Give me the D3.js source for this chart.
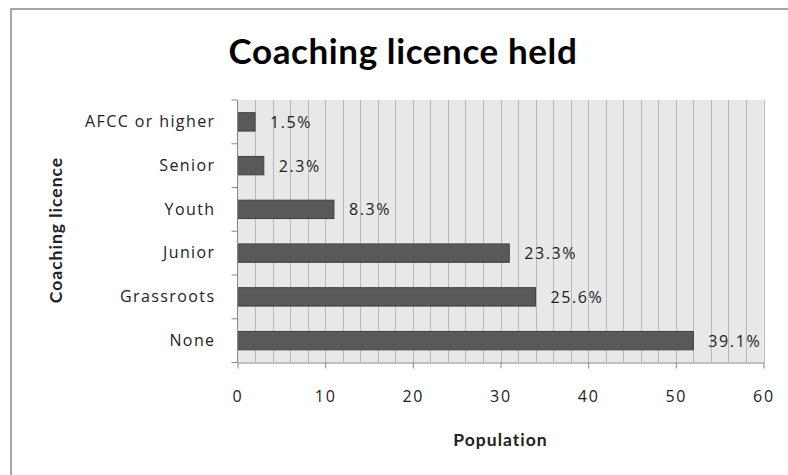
<!DOCTYPE html>
<html>
<head>
<meta charset="utf-8">
<script src="https://cdn.jsdelivr.net/npm/d3@7"></script>
<style>
  html, body { margin: 0; padding: 0; background: #fff; }
  svg { display: block; }
</style>
</head>
<body>
<svg id="chart" width="788" height="475"></svg>
<script>
// Coaching licence held, population per licence level
const categories = ["AFCC or higher", "Senior", "Youth", "Junior", "Grassroots", "None"];
const population = [2, 3, 11, 31, 34, 52];
const shareLabels = ["1.5%", "2.3%", "8.3%", "23.3%", "25.6%", "39.1%"];
const xTicks = [0, 10, 20, 30, 40, 50, 60];

const svg = d3.select("#chart");
const W = 788, H = 475;
const plot = { left: 237.5, right: 763.5, top: 100, bottom: 362.5 };
const labelFont = "'Open Sans', 'DejaVu Sans', sans-serif";
const titleFont = "Lato, 'Open Sans', sans-serif";

// chart frame (only top/left edges fall inside the view)
svg.append("rect")
  .attr("x", 11).attr("y", 9)
  .attr("width", W + 20).attr("height", H + 20)
  .attr("fill", "#fff").attr("stroke", "#a6a6a6").attr("stroke-width", 2);

const x = d3.scaleLinear().domain([0, 60]).range([plot.left, plot.right]);
const y = d3.scaleBand().domain(categories)
  .range([plot.top, plot.bottom]).paddingInner(0.58).paddingOuter(0.29);
const band = d3.scaleBand().domain(categories).range([plot.top, plot.bottom]);

// plot background
svg.append("rect")
  .attr("x", plot.left).attr("y", plot.top)
  .attr("width", plot.right - plot.left).attr("height", plot.bottom - plot.top)
  .attr("fill", "#e8e8e8");

// vertical gridlines every 2 units
svg.append("g")
  .selectAll("line")
  .data(d3.range(2, 61, 2))
  .join("line")
  .attr("x1", d => Math.round(x(d)) + 0.5).attr("x2", d => Math.round(x(d)) + 0.5)
  .attr("y1", plot.top).attr("y2", plot.bottom)
  .attr("stroke", "#b9b9b9").attr("stroke-width", 1);

// bars
svg.append("g")
  .selectAll("rect")
  .data(categories)
  .join("rect")
  .attr("x", x(0))
  .attr("y", d => y(d))
  .attr("width", (d, i) => x(population[i]) - x(0))
  .attr("height", y.bandwidth())
  .attr("fill", "#595959")
  .attr("stroke", "#3f3f3f").attr("stroke-width", 1);

// value labels
svg.append("g")
  .selectAll("text")
  .data(categories)
  .join("text")
  .attr("x", (d, i) => x(population[i]) + 15)
  .attr("y", d => y(d) + y.bandwidth() / 2)
  .attr("dy", "0.38em")
  .attr("font-family", labelFont)
  .attr("font-size", 16)
  .attr("letter-spacing", 1.6)
  .attr("fill", "#222")
  .text((d, i) => shareLabels[i]);

// x axis
const xAxis = svg.append("g")
  .attr("transform", `translate(0,${plot.bottom})`)
  .call(d3.axisBottom(x).tickValues(xTicks).tickSize(6).tickPadding(22).tickSizeOuter(0));
xAxis.select(".domain").attr("stroke", "#888");
xAxis.selectAll(".tick line").attr("stroke", "#888");
xAxis.selectAll("text")
  .attr("font-family", labelFont).attr("font-size", 16)
  .attr("letter-spacing", 1.8).attr("fill", "#222");

// y axis with ticks on category boundaries
const yAxis = svg.append("g")
  .attr("transform", `translate(${plot.left},0)`)
  .call(d3.axisLeft(band).tickSize(0).tickPadding(22).tickSizeOuter(0));
yAxis.select(".domain").remove();
yAxis.selectAll("text")
  .attr("font-family", labelFont).attr("font-size", 16)
  .attr("letter-spacing", 1.4).attr("fill", "#222");

svg.append("line")
  .attr("x1", plot.left).attr("x2", plot.left)
  .attr("y1", plot.top).attr("y2", plot.bottom)
  .attr("stroke", "#888");
svg.append("g")
  .selectAll("line")
  .data(categories.concat(["__end"]))
  .join("line")
  .attr("x1", plot.left - 6).attr("x2", plot.left)
  .attr("y1", (d, i) => i < categories.length ? band(d) : plot.bottom)
  .attr("y2", (d, i) => i < categories.length ? band(d) : plot.bottom)
  .attr("stroke", "#888");

// titles
svg.append("text")
  .attr("x", 403).attr("y", 64)
  .attr("text-anchor", "middle")
  .attr("font-family", titleFont)
  .attr("font-weight", "bold").attr("font-size", 35)
  .attr("letter-spacing", 0.6)
  .attr("fill", "#000")
  .text("Coaching licence held");

svg.append("text")
  .attr("x", (plot.left + plot.right) / 2).attr("y", 446)
  .attr("text-anchor", "middle")
  .attr("font-family", titleFont)
  .attr("font-weight", "bold").attr("font-size", 17.5)
  .attr("letter-spacing", 1)
  .attr("fill", "#222")
  .text("Population");

svg.append("text")
  .attr("transform", "translate(62,230) rotate(-90)")
  .attr("text-anchor", "middle")
  .attr("font-family", titleFont)
  .attr("font-weight", "bold").attr("font-size", 17.5)
  .attr("letter-spacing", 1)
  .attr("fill", "#222")
  .text("Coaching licence");
</script>
</body>
</html>
